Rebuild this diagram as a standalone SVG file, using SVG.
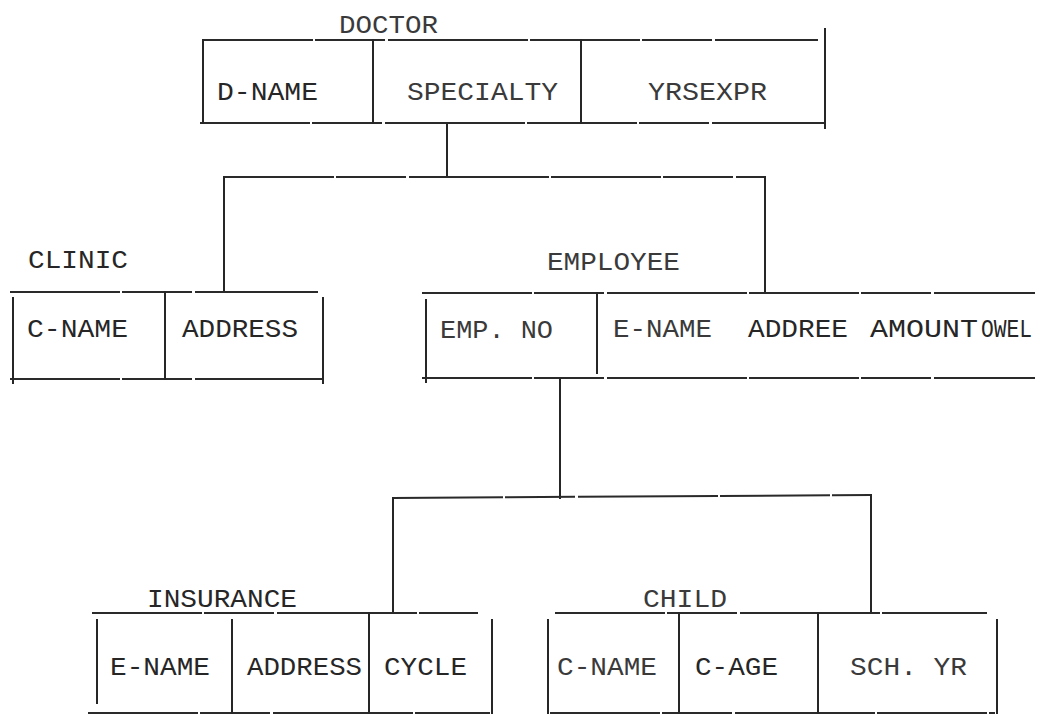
<svg xmlns="http://www.w3.org/2000/svg" width="1040" height="714" viewBox="0 0 1040 714">
<style>
  .bg{fill:#ffffff}
  .ln{stroke:#262626;stroke-width:2;fill:none;stroke-linecap:square}
  .hl{stroke:#2a2a2a;stroke-width:2;fill:none;stroke-dasharray:110 2 70 3 140 2}
  .t{font-family:"Liberation Mono","DejaVu Sans Mono",monospace;font-size:26px;fill:#262626}
  .lt{fill:#3a3a3a}
</style>
<rect class="bg" x="0" y="0" width="1040" height="714"/>

<g id="connectors">
  <path class="ln" d="M447 123 V177"/>
  <path class="hl" d="M224 177 H765"/>
  <path class="ln" d="M224 177 V290"/>
  <path class="ln" d="M765 177 V293"/>
  <path class="ln" d="M560 378 V498"/>
  <path class="hl" d="M393 498 L871 495"/>
  <path class="ln" d="M393 498 V613"/>
  <path class="ln" d="M871 495 V612"/>
</g>

<g id="doctor">
  <text class="t lt" x="339" y="33" textLength="99" lengthAdjust="spacingAndGlyphs">DOCTOR</text>
  <path class="hl" d="M203 40 H818"/>
  <path class="hl" d="M200 123 H825"/>
  <path class="ln" d="M203 40 V123"/>
  <path class="ln" d="M373 40 V123"/>
  <path class="ln" d="M581 40 V123"/>
  <path class="ln" d="M825 29 V128"/>
  <text class="t" x="217" y="100" textLength="101" lengthAdjust="spacingAndGlyphs">D-NAME</text>
  <text class="t lt" x="407" y="100" textLength="151" lengthAdjust="spacingAndGlyphs">SPECIALTY</text>
  <text class="t lt" x="648" y="100" textLength="119" lengthAdjust="spacingAndGlyphs">YRSEXPR</text>
</g>

<g id="clinic">
  <text class="t" x="28" y="268" textLength="100" lengthAdjust="spacingAndGlyphs">CLINIC</text>
  <path class="hl" d="M10 292 H318"/>
  <path class="hl" d="M10 379 H323"/>
  <path class="ln" d="M13 298 V383"/>
  <path class="ln" d="M165 292 V379"/>
  <path class="ln" d="M323 298 V383"/>
  <text class="t" x="27" y="337" textLength="101" lengthAdjust="spacingAndGlyphs">C-NAME</text>
  <text class="t" x="182" y="337" textLength="116" lengthAdjust="spacingAndGlyphs">ADDRESS</text>
</g>

<g id="employee">
  <text class="t lt" x="547" y="270" textLength="133" lengthAdjust="spacingAndGlyphs">EMPLOYEE</text>
  <path class="hl" d="M422 293 H1035"/>
  <path class="hl" d="M422 378 H1035"/>
  <path class="ln" d="M426 300 V382"/>
  <path class="ln" d="M597 293 V373"/>
  <text class="t lt" x="440" y="338" textLength="113" lengthAdjust="spacingAndGlyphs">EMP. NO</text>
  <text class="t lt" x="613" y="337" textLength="99" lengthAdjust="spacingAndGlyphs">E-NAME</text>
  <text class="t" x="748" y="337" textLength="100" lengthAdjust="spacingAndGlyphs">ADDREE</text>
  <text class="t" x="870" y="337" textLength="108" lengthAdjust="spacingAndGlyphs">AMOUNT</text>
  <text class="t" transform="translate(981 337) scale(0.82 1)" x="0" y="0">OWEL</text>
</g>

<g id="insurance">
  <text class="t" x="147" y="607" textLength="150" lengthAdjust="spacingAndGlyphs">INSURANCE</text>
  <path class="hl" d="M92 613 H478"/>
  <path class="hl" d="M88 713 H490"/>
  <path class="ln" d="M97 620 V703"/>
  <path class="ln" d="M232 620 V714"/>
  <path class="ln" d="M369 613 V714"/>
  <path class="ln" d="M492 620 V714" stroke-dasharray="6 2"/>
  <text class="t" x="110" y="675" textLength="100" lengthAdjust="spacingAndGlyphs">E-NAME</text>
  <text class="t" x="247" y="675" textLength="115" lengthAdjust="spacingAndGlyphs">ADDRESS</text>
  <text class="t" x="384" y="675" textLength="83" lengthAdjust="spacingAndGlyphs">CYCLE</text>
</g>

<g id="child">
  <text class="t lt" x="643" y="607" textLength="84" lengthAdjust="spacingAndGlyphs">CHILD</text>
  <path class="hl" d="M555 613 H987"/>
  <path class="hl" d="M550 713 H995"/>
  <path class="ln" d="M548 620 V714"/>
  <path class="ln" d="M679 613 V714"/>
  <path class="ln" d="M818 613 V714"/>
  <path class="ln" d="M997 620 V714"/>
  <text class="t lt" x="557" y="675" textLength="100" lengthAdjust="spacingAndGlyphs">C-NAME</text>
  <text class="t" x="695" y="675" textLength="83" lengthAdjust="spacingAndGlyphs">C-AGE</text>
  <text class="t lt" x="850" y="675" textLength="117" lengthAdjust="spacingAndGlyphs">SCH. YR</text>
</g>
</svg>
